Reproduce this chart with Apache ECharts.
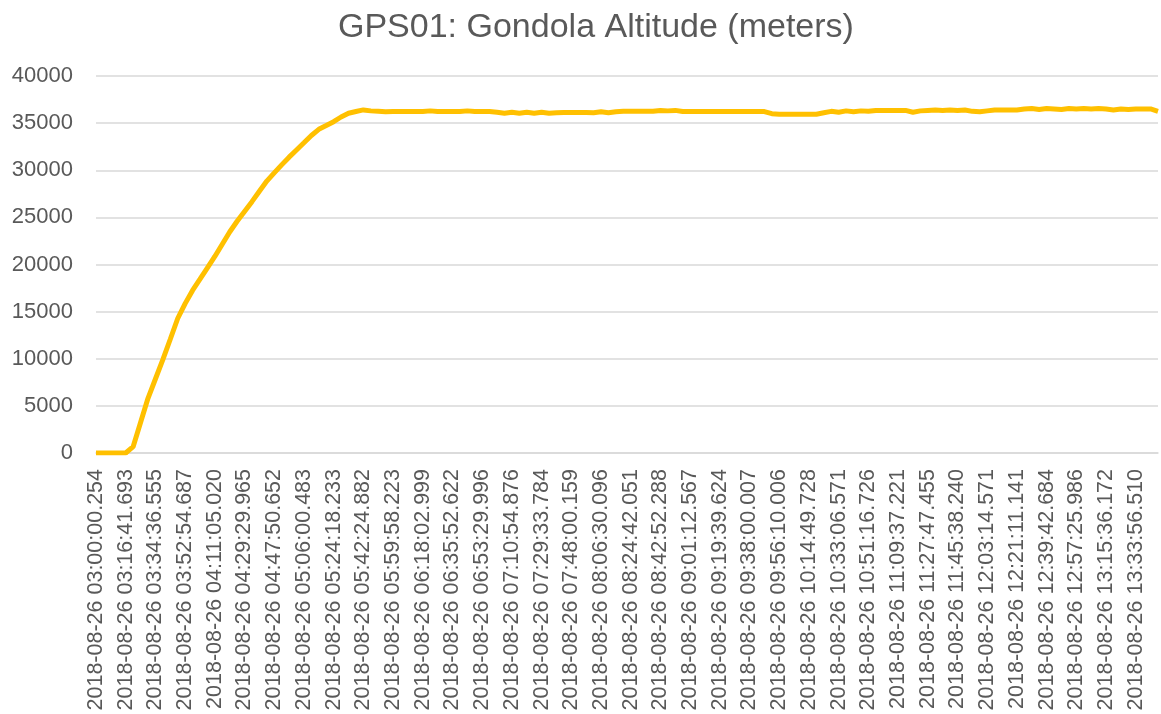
<!DOCTYPE html>
<html>
<head>
    <meta charset="utf-8">
    <title>GPS01 Gondola Altitude</title>
    <script src="https://cdn.jsdelivr.net/npm/echarts@6/dist/echarts.min.js"></script>
    <style>
        html, body { margin: 0; padding: 0; background: #fff; }
    </style>
</head>
<body>
    <div id="main" style="width: 1161px;height:714px;"></div>
    <script type="text/javascript">
        // tick labels, one every 4 samples
        var timeLabels = [
            '2018-08-26 03:00:00.254', '2018-08-26 03:16:41.693', '2018-08-26 03:34:36.555',
            '2018-08-26 03:52:54.687', '2018-08-26 04:11:05.020', '2018-08-26 04:29:29.965',
            '2018-08-26 04:47:50.652', '2018-08-26 05:06:00.483', '2018-08-26 05:24:18.233',
            '2018-08-26 05:42:24.882', '2018-08-26 05:59:58.223', '2018-08-26 06:18:02.999',
            '2018-08-26 06:35:52.622', '2018-08-26 06:53:29.996', '2018-08-26 07:10:54.876',
            '2018-08-26 07:29:33.784', '2018-08-26 07:48:00.159', '2018-08-26 08:06:30.096',
            '2018-08-26 08:24:42.051', '2018-08-26 08:42:52.288', '2018-08-26 09:01:12.567',
            '2018-08-26 09:19:39.624', '2018-08-26 09:38:00.007', '2018-08-26 09:56:10.006',
            '2018-08-26 10:14:49.728', '2018-08-26 10:33:06.571', '2018-08-26 10:51:16.726',
            '2018-08-26 11:09:37.221', '2018-08-26 11:27:47.455', '2018-08-26 11:45:38.240',
            '2018-08-26 12:03:14.571', '2018-08-26 12:21:11.141', '2018-08-26 12:39:42.684',
            '2018-08-26 12:57:25.986', '2018-08-26 13:15:36.172', '2018-08-26 13:33:56.510'
        ];
        var samplesPerLabel = 4;

        // altitude in meters (4 samples per label)
        var altitude = [
            0, 0, 0, 0, 0, 670, 3240, 5800, 7850, 9900,
            12070, 14270, 15850, 17250, 18440, 19650, 20850, 22150, 23450, 24590,
            25630, 26670, 27770, 28850, 29720, 30570, 31390, 32150, 32910, 33690,
            34340, 34740, 35150, 35650, 36050, 36230, 36400, 36300, 36250, 36200,
            36230, 36230, 36230, 36230, 36230, 36300, 36230, 36230, 36230, 36230,
            36300, 36230, 36230, 36230, 36150, 36050, 36150, 36050, 36150, 36050,
            36150, 36050, 36100, 36130, 36130, 36130, 36130, 36100, 36200, 36100,
            36200, 36250, 36250, 36250, 36250, 36250, 36350, 36300, 36350, 36230,
            36230, 36230, 36230, 36230, 36230, 36230, 36230, 36230, 36230, 36230,
            36230, 36000, 35950, 35950, 35950, 35950, 35950, 35950, 36100, 36250,
            36150, 36300, 36200, 36300, 36250, 36350, 36350, 36350, 36350, 36350,
            36150, 36300, 36350, 36400, 36350, 36400, 36350, 36400, 36250, 36200,
            36300, 36400, 36400, 36400, 36400, 36500, 36550, 36450, 36550, 36500,
            36450, 36550, 36500, 36550, 36500, 36550, 36500, 36400, 36500, 36450,
            36500, 36500, 36500, 36250
        ];

        var categories = altitude.map(function (v, i) {
            return i % samplesPerLabel === 0 ? (timeLabels[i / samplesPerLabel] || '') : '';
        });

        var myChart = echarts.init(document.getElementById('main'));
        var textColor = '#595959';
        var font = 'Liberation Sans';

        option = {
            animation: false,
            title:
            {
                text: 'GPS01: Gondola Altitude (meters)',
                left: 333,
                top: 6,
                textStyle: { color: textColor, fontFamily: font, fontSize: 34, fontWeight: 'normal' }
            },
            grid:
            {
                left: 96,
                right: 3,
                top: 76,
                bottom: 261
            },
            xAxis:
            {
                type: 'category',
                boundaryGap: false,
                data: categories,
                axisLine: { lineStyle: { color: '#D9D9D9', width: 1.5 } },
                axisTick: { show: false },
                axisLabel:
                {
                    interval: samplesPerLabel - 1,
                    rotate: 90,
                    margin: 16,
                    color: textColor,
                    fontFamily: font,
                    fontSize: 21.5
                }
            },
            yAxis:
            {
                type: 'value',
                min: 0,
                max: 40000,
                interval: 5000,
                axisLine: { show: false },
                axisTick: { show: false },
                axisLabel:
                {
                    color: textColor,
                    fontFamily: font,
                    fontSize: 22,
                    margin: 23,
                    formatter: function (v) { return String(v); }
                },
                splitLine: { lineStyle: { color: '#D9D9D9', width: 1.5 } }
            },
            series: [
            {
                name: 'Altitude',
                type: 'line',
                symbol: 'none',
                smooth: false,
                lineStyle: { color: '#FFC000', width: 5 },
                itemStyle: { color: '#FFC000' },
                data: altitude
            }
            ]
        };
        myChart.setOption(option);
    </script>
</body>
</html>
